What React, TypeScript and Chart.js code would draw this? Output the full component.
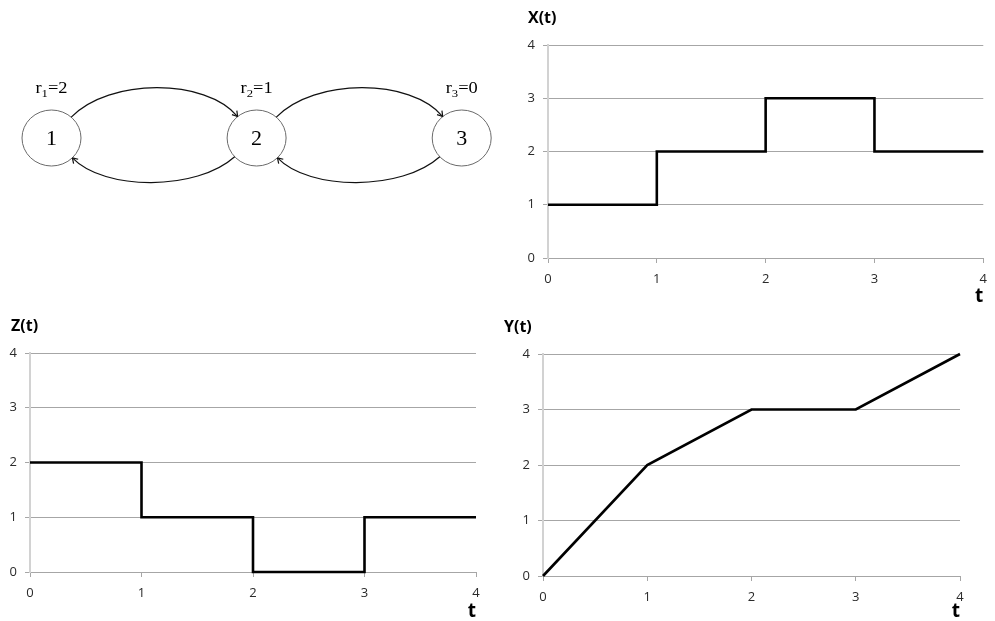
import React, { useEffect, useRef } from "react";
import { Chart, registerables } from "chart.js";

Chart.register(...registerables);

// ---------- data ----------
const T_VALUES = [0, 1, 2, 3, 4];
const X_VALUES = [1, 2, 3, 2, 2];
const Z_VALUES = [2, 1, 0, 1, 1];
const Y_VALUES = [0, 2, 3, 3, 4];
const AXIS_TICKS = [0, 1, 2, 3, 4];

const NODE_IDS = ["1", "2", "3"];
const NODE_RATES = ["2", "1", "0"];
const NODE_POS = [0, 1, 2];

const TICK_FONT = "'Open Sans', 'Liberation Sans', sans-serif";
const SERIF = "'Liberation Serif', 'DejaVu Serif', serif";

// ---------- plugins ----------
const cornerTitlePlugin = {
  id: "cornerTitle",
  afterDraw(chart: any, _args: any, opts: any) {
    if (!opts || !opts.text) return;
    const { ctx, chartArea } = chart;
    ctx.save();
    ctx.font = `bold 16px ${TICK_FONT}`;
    ctx.fillStyle = "#000";
    ctx.textAlign = "left";
    ctx.textBaseline = "middle";
    ctx.fillText(opts.text, chartArea.left + opts.dx, chartArea.top + opts.dy);
    ctx.restore();
  },
};

const RX = 29.5;
const RY = 28;

function edge(p: any, deg: number) {
  const r = (deg * Math.PI) / 180;
  return { x: p.x + RX * Math.cos(r), y: p.y + RY * Math.sin(r) };
}

function arrowHead(ctx: any, tip: any, from: any) {
  const dx = from.x - tip.x;
  const dy = from.y - tip.y;
  const len = Math.hypot(dx, dy) || 1;
  const ux = dx / len;
  const uy = dy / len;
  const L = 6;
  const a = (32 * Math.PI) / 180;
  ctx.beginPath();
  for (const s of [-1, 1]) {
    const c = Math.cos(s * a);
    const sn = Math.sin(s * a);
    const vx = ux * c - uy * sn;
    const vy = ux * sn + uy * c;
    ctx.moveTo(tip.x + vx * L, tip.y + vy * L);
    ctx.lineTo(tip.x, tip.y);
  }
  ctx.stroke();
}

const diagramPlugin = {
  id: "stateDiagram",
  afterDatasetsDraw(chart: any) {
    const { ctx } = chart;
    const meta = chart.getDatasetMeta(0);
    const pts = meta.data.map((e: any) => ({ x: e.x, y: e.y }));
    ctx.save();

    // nodes
    pts.forEach((p: any) => {
      ctx.beginPath();
      ctx.ellipse(p.x, p.y, RX, RY, 0, 0, Math.PI * 2);
      ctx.fillStyle = "#fff";
      ctx.fill();
      ctx.strokeStyle = "#6a6a6a";
      ctx.lineWidth = 1;
      ctx.stroke();
    });

    // arcs
    ctx.strokeStyle = "#111";
    ctx.lineWidth = 1.2;
    for (let i = 0; i < pts.length - 1; i++) {
      const a = pts[i];
      const b = pts[i + 1];
      // top arc a -> b
      const p0 = edge(a, -48);
      const p3 = edge(b, -130);
      const c1 = { x: p0.x + 38, y: a.y - 60 };
      const c2 = { x: p3.x - 32, y: b.y - 60 };
      ctx.beginPath();
      ctx.moveTo(p0.x, p0.y);
      ctx.bezierCurveTo(c1.x, c1.y, c2.x, c2.y, p3.x, p3.y);
      ctx.stroke();
      arrowHead(ctx, p3, c2);
      // bottom arc b -> a
      const q0 = edge(b, 138);
      const q3 = edge(a, 45);
      const d1 = { x: q0.x - 38, y: b.y + 53 };
      const d2 = { x: q3.x + 32, y: a.y + 53 };
      ctx.beginPath();
      ctx.moveTo(q0.x, q0.y);
      ctx.bezierCurveTo(d1.x, d1.y, d2.x, d2.y, q3.x, q3.y);
      ctx.stroke();
      arrowHead(ctx, q3, d2);
    }

    // node numbers
    ctx.fillStyle = "#000";
    ctx.textAlign = "center";
    ctx.textBaseline = "middle";
    ctx.font = `22px ${SERIF}`;
    pts.forEach((p: any, i: number) => {
      ctx.fillText(NODE_IDS[i], p.x, p.y + 1);
    });

    // rate labels r_i=v
    pts.forEach((p: any, i: number) => {
      const big = `16px ${SERIF}`;
      const small = `11px ${SERIF}`;
      ctx.font = big;
      const wr = ctx.measureText("r").width;
      const wEq = ctx.measureText("=" + NODE_RATES[i]).width;
      ctx.font = small;
      const ws = ctx.measureText(NODE_IDS[i]).width;
      const total = wr + ws + wEq;
      const sx = 1.15;
      ctx.save();
      ctx.translate(p.x, p.y - 45);
      ctx.scale(sx, 1);
      ctx.textAlign = "left";
      ctx.textBaseline = "alphabetic";
      let x = -total / 2;
      ctx.font = big;
      ctx.fillText("r", x, 0);
      x += wr;
      ctx.font = small;
      ctx.fillText(NODE_IDS[i], x, 3.5);
      x += ws;
      ctx.font = big;
      ctx.fillText("=" + NODE_RATES[i], x, 0);
      ctx.restore();
    });

    ctx.restore();
  },
};

// ---------- chart configs ----------
type Layout = {
  pt: number;
  pr: number;
  yw: number;
  xh: number;
  tpad: number;
  title: string;
  tdx: number;
  tdy: number;
};

function lineConfig(values: number[], stepped: boolean, L: Layout): any {
  const tickOpts = {
    padding: 8,
    color: "#2a2a2a",
    font: { family: TICK_FONT, size: 13 },
    autoSkip: false,
    maxRotation: 0,
  };
  return {
    type: "line",
    data: {
      datasets: [
        {
          data: T_VALUES.map((t, i) => ({ x: t, y: values[i] })),
          borderColor: "#000",
          borderWidth: 2.6,
          pointRadius: 0,
          stepped: stepped,
          tension: 0,
          fill: false,
          borderJoinStyle: "miter",
          clip: 4,
        },
      ],
    },
    options: {
      animation: false,
      responsive: false,
      maintainAspectRatio: false,
      layout: { padding: { left: 0, top: L.pt, right: L.pr, bottom: 0 } },
      plugins: {
        legend: { display: false },
        tooltip: { enabled: false },
        cornerTitle: { text: L.title, dx: L.tdx, dy: L.tdy },
      },
      scales: {
        x: {
          type: "linear",
          min: 0,
          max: 4,
          afterBuildTicks: (s: any) => {
            s.ticks = AXIS_TICKS.map((v) => ({ value: v }));
          },
          ticks: tickOpts,
          grid: {
            drawOnChartArea: false,
            drawTicks: true,
            tickLength: 5,
            color: "#a6a6a6",
          },
          border: { display: false },
          title: {
            display: true,
            text: "t",
            align: "end",
            color: "#000",
            font: { family: TICK_FONT, size: 19, weight: "bold", lineHeight: 1 },
            padding: { top: 0, bottom: L.tpad },
          },
          afterFit: (s: any) => {
            s.height = L.xh;
          },
        },
        y: {
          type: "linear",
          min: 0,
          max: 4,
          afterBuildTicks: (s: any) => {
            s.ticks = AXIS_TICKS.map((v) => ({ value: v }));
          },
          ticks: tickOpts,
          grid: { color: "#a6a6a6", drawTicks: true, tickLength: 5, lineWidth: 1 },
          border: { display: true, color: "#d2d2d2", width: 2 },
          afterFit: (s: any) => {
            s.width = L.yw;
          },
        },
      },
    },
    plugins: [cornerTitlePlugin],
  };
}

function diagramConfig(): any {
  return {
    type: "scatter",
    data: {
      datasets: [
        {
          data: NODE_POS.map((p) => ({ x: p, y: 0 })),
          pointRadius: 0,
          pointHoverRadius: 0,
        },
      ],
    },
    options: {
      animation: false,
      responsive: false,
      maintainAspectRatio: false,
      layout: { padding: { left: 51.5, right: 38.3, top: 0, bottom: 0 } },
      plugins: { legend: { display: false }, tooltip: { enabled: false } },
      scales: {
        x: { type: "linear", min: 0, max: 2, display: false },
        y: { type: "linear", min: -1, max: 1, display: false },
      },
    },
    plugins: [diagramPlugin],
  };
}

// ---------- components ----------
function ChartCanvas(props: {
  left: number;
  top: number;
  width: number;
  height: number;
  make: () => any;
}) {
  const ref = useRef<HTMLCanvasElement | null>(null);
  useEffect(() => {
    if (!ref.current) return;
    const chart = new Chart(ref.current, props.make());
    return () => chart.destroy();
  }, []);
  return (
    <canvas
      ref={ref}
      width={props.width}
      height={props.height}
      style={{
        position: "absolute",
        left: props.left,
        top: props.top,
        width: props.width,
        height: props.height,
      }}
    />
  );
}

export default function App() {
  return (
    <div
      style={{
        position: "absolute",
        left: 0,
        top: 0,
        width: 995,
        height: 621,
        background: "#fff",
        overflow: "hidden",
      }}
    >
      <ChartCanvas left={0} top={60} width={500} height={156} make={diagramConfig} />
      <ChartCanvas
        left={500}
        top={0}
        width={495}
        height={310}
        make={() =>
          lineConfig(X_VALUES, true, {
            pt: 45,
            pr: 6,
            yw: 48,
            xh: 52,
            tpad: 4,
            title: "X(t)",
            tdx: -20,
            tdy: -27,
          })
        }
      />
      <ChartCanvas
        left={0}
        top={310}
        width={495}
        height={311}
        make={() =>
          lineConfig(Z_VALUES, true, {
            pt: 43,
            pr: 19,
            yw: 30,
            xh: 49,
            tpad: 0,
            title: "Z(t)",
            tdx: -19,
            tdy: -27,
          })
        }
      />
      <ChartCanvas
        left={500}
        top={310}
        width={495}
        height={311}
        make={() =>
          lineConfig(Y_VALUES, false, {
            pt: 44,
            pr: 35,
            yw: 43,
            xh: 45,
            tpad: 0,
            title: "Y(t)",
            tdx: -39,
            tdy: -27,
          })
        }
      />
    </div>
  );
}
